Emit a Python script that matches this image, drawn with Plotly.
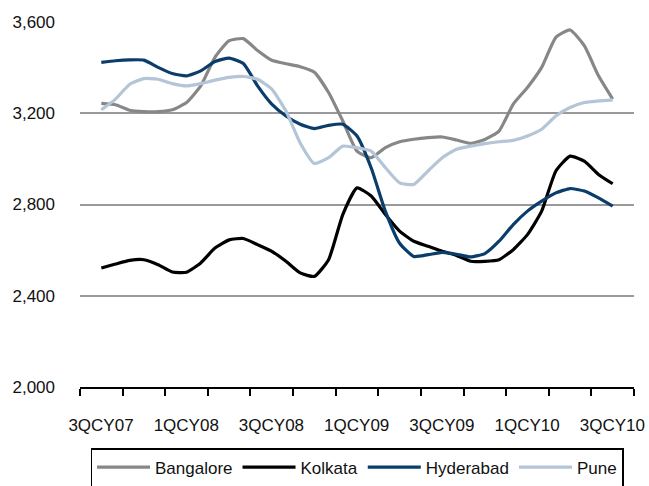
import plotly.graph_objects as go

# Quarter labels on the category axis
quarters = ["3QCY07", "4QCY07", "1QCY08", "2QCY08", "3QCY08", "4QCY08", "1QCY09",
            "2QCY09", "3QCY09", "4QCY09", "1QCY10", "2QCY10", "3QCY10"]

# Monthly readings, Jul-07 .. Jul-10 (37 months)
bangalore = [3243, 3237, 3213, 3207, 3207, 3215, 3247, 3320, 3445, 3518, 3527, 3475, 3432,
             3417, 3404, 3380, 3291, 3166, 3034, 3005, 3049, 3075, 3086, 3093, 3096, 3083,
             3068, 3085, 3122, 3240, 3313, 3401, 3533, 3565, 3496, 3364, 3262]
kolkata = [2522, 2539, 2555, 2558, 2536, 2504, 2503, 2544, 2609, 2645, 2651, 2624, 2595,
           2551, 2500, 2485, 2558, 2756, 2873, 2837, 2756, 2683, 2639, 2617, 2595, 2577,
           2551, 2551, 2558, 2602, 2668, 2771, 2947, 3012, 2990, 2932, 2891]
hyderabad = [3423, 3430, 3434, 3433, 3401, 3374, 3364, 3386, 3427, 3442, 3418, 3320, 3240,
             3188, 3152, 3133, 3147, 3152, 3100, 2960, 2770, 2630, 2572, 2580, 2590, 2582,
             2570, 2585, 2639, 2712, 2771, 2815, 2851, 2870, 2859, 2829, 2793]
pune = [3215, 3262, 3327, 3352, 3349, 3330, 3320, 3330, 3345, 3357, 3361, 3349, 3306,
        3210, 3070, 2980, 3005, 3056, 3049, 3034, 2961, 2895, 2888, 2947, 3005, 3042,
        3056, 3067, 3075, 3081, 3100, 3130, 3188, 3225, 3247, 3254, 3259]

# month index -> position in quarter units (0 = 3QCY07 centre)
month_x = [i / 3 for i in range(len(bangalore))]

series = [
    ("Bangalore", bangalore, "#878787"),
    ("Kolkata", kolkata, "#000000"),
    ("Hyderabad", hyderabad, "#0A3D6B"),
    ("Pune", pune, "#B3C5D7"),
]

FONT = "Liberation Sans, Arial, sans-serif"
TXT = "#111111"

fig = go.Figure()
for name, vals, col in series:
    fig.add_trace(go.Scatter(
        x=month_x, y=vals, name=name, mode="lines",
        line=dict(color=col, width=3.2, shape="spline", smoothing=0.5),
    ))

# tick marks sit on category boundaries; labels every other quarter,
# shifted half a category so they centre on their quarter
tick_vals = [k - 0.5 for k in range(len(quarters) + 1)]
tick_text = [quarters[k] if (k < len(quarters) and k % 2 == 0) else "" for k in range(len(quarters) + 1)]

W, H = 649, 486
ml, mr, mt, mb = 80, 15, 22, 99
plot_h = H - mt - mb
cat_px = (W - ml - mr) / len(quarters)

fig.update_layout(
    width=W, height=H,
    margin=dict(l=ml, r=mr, t=mt, b=mb, autoexpand=False),
    paper_bgcolor="white", plot_bgcolor="white",
    font=dict(family=FONT, size=17, color=TXT),
    showlegend=True,
    legend=dict(
        orientation="h", x=0.5, xanchor="center",
        y=-(448 - (H - mb)) / plot_h, yanchor="top",
        bordercolor="#000000", borderwidth=1.5, bgcolor="white",
        font=dict(family=FONT, size=17, color=TXT),
        itemwidth=53,
    ),
    xaxis=dict(
        range=[-0.5, len(quarters) - 0.5],
        tickmode="array", tickvals=tick_vals, ticktext=tick_text,
        ticks="outside", ticklen=7, tickwidth=2, tickcolor="#000000",
        ticklabelshift=round(cat_px / 2), ticklabelstandoff=15,
        showline=True, linecolor="#000000", linewidth=2,
        showgrid=False, zeroline=False,
        tickfont=dict(family=FONT, size=17, color=TXT),
    ),
    yaxis=dict(
        range=[2000, 3600],
        tickmode="array", tickvals=[2000, 2400, 2800, 3200, 3600],
        tickformat=",", ticks="",
        showline=False, showgrid=True, gridcolor="#999999", gridwidth=1.5,
        zeroline=False, ticklabelstandoff=24,
        tickfont=dict(family=FONT, size=17, color=TXT),
    ),
)

fig.write_html("out.html")
